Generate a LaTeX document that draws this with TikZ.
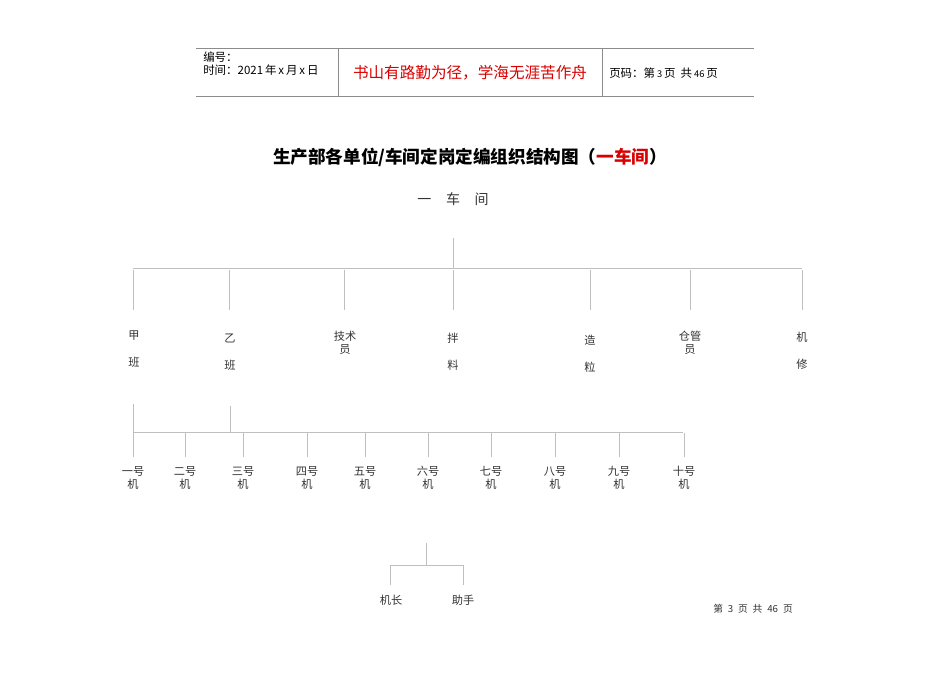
\documentclass[tikz,border=0pt]{standalone}
\usepackage{fontspec}
\setmainfont{Noto Sans CJK SC}
\newfontfamily\cjk{Noto Sans CJK SC}
\begin{document}
\begin{tikzpicture}[x=0.75pt,y=-0.75pt,
  rule/.style={draw=black!45,line width=0.6pt},
  tline/.style={draw=black!25,line width=0.6pt},
  hdr/.style={inner sep=0pt,anchor=west,font=\fontsize{8.6}{9}\selectfont},
  lbl/.style={inner sep=0pt,align=center,font=\fontsize{8.4}{20}\selectfont,text=black!80},
  lbltight/.style={inner sep=0pt,align=center,font=\fontsize{8.4}{10}\selectfont,text=black!80}]
\useasboundingbox (0,0) rectangle (950,672);
% header frame
\coordinate (hTL) at (196,48); \coordinate (hTR) at (754,48);
\coordinate (hBL) at (196,96); \coordinate (hBR) at (754,96);
\coordinate (s1t) at (338,48); \coordinate (s1b) at (338,96);
\coordinate (s2t) at (602,48); \coordinate (s2b) at (602,96);
\draw[rule] (hTL) -- (hTR);
\draw[rule] (hBL) -- (hBR);
\draw[rule] (s1t) -- (s1b);
\draw[rule] (s2t) -- (s2b);
\node[hdr] (bh) at (203,57) {编号：};
\node[hdr] (sj) at (203,70) {时间：2021\,年\,x\,月\,x\,日};
\node[inner sep=0pt,text=red!85!black,font=\fontsize{11.7}{13}\selectfont] (motto) at (470,73) {书山有路勤为径，学海无涯苦作舟};
\node[hdr] (ym) at (609,73) {页码：第\,{\fontsize{7}{8}\selectfont 3}\,页\ \ 共\,{\fontsize{7}{8}\selectfont 46}\,页};
% title
\node[inner sep=0pt,font=\bfseries\fontsize{13.2}{15}\selectfont] (title) at (470,157) {生产部各单位/车间定岗定编组织结构图（\textcolor{red!85!black}{一车间}）};
\node[inner sep=0pt,font=\fontsize{10.5}{12}\selectfont,text=black!80] (root) at (453,199) {一\hspace{1.05em}车\hspace{1.05em}间};
% level 1
\coordinate (r0) at (453,238); \coordinate (r1) at (453,268);
\coordinate (hl) at (133,268); \coordinate (hr) at (802,268);
\draw[tline] (r0) -- (r1);
\draw[tline] (hl) -- (hr);
\foreach \n/\x in {a/133,b/229,c/344,d/453,e/590,f/690,g/802}{
  \coordinate (\n t) at (\x,270);
  \coordinate (\n b) at (\x,310);
  \draw[tline] (\n t) -- (\n b);
}
\node[lbl] (jia) at (134,349) {甲\\班};
\node[lbl] (yi) at (230,352) {乙\\班};
\node[lbltight] (js) at (345,343) {技术\\员};
\node[lbl] (bl) at (453,352) {拌\\料};
\node[lbl] (zl) at (590,354) {造\\粒};
\node[lbltight] (cg) at (690,343) {仓管\\员};
\node[lbl] (jx) at (802,351) {机\\修};
% level 2
\coordinate (p1) at (133,404); \coordinate (p1b) at (133,432);
\coordinate (p2) at (230,406); \coordinate (p2b) at (230,432);
\coordinate (ml) at (133,432); \coordinate (mr) at (683,432);
\draw[tline] (p1) -- (p1b);
\draw[tline] (p2) -- (p2b);
\draw[tline] (ml) -- (mr);
\foreach \n/\x/\t in {m1/133/一,m2/185/二,m3/243/三,m4/307/四,m5/365/五,m6/428/六,m7/491/七,m8/555/八,m9/619/九,m10/684/十}{
  \coordinate (\n t) at (\x,433);
  \coordinate (\n b) at (\x,457);
  \draw[tline] (\n t) -- (\n b);
  \node[lbltight] (\n) at (\x,478) {\t 号\\机};
}
% level 3
\coordinate (q0) at (426,543); \coordinate (q1) at (426,565);
\coordinate (ql) at (390,565); \coordinate (qr) at (463,565);
\coordinate (qlb) at (390,585); \coordinate (qrb) at (463,585);
\draw[tline] (q0) -- (q1);
\draw[tline] (ql) -- (qr);
\draw[tline] (ql) -- (qlb);
\draw[tline] (qr) -- (qrb);
\node[lbltight] (jz) at (391,600) {机长};
\node[lbltight] (zs) at (463,600) {助手};
% footer
\node[inner sep=0pt,font=\fontsize{7.3}{8}\selectfont,text=black!80] (foot) at (753,609) {第\hspace{0.5em}3\hspace{0.5em}页\hspace{0.5em}共\hspace{0.5em}46\hspace{0.5em}页};
\end{tikzpicture}
\end{document}
